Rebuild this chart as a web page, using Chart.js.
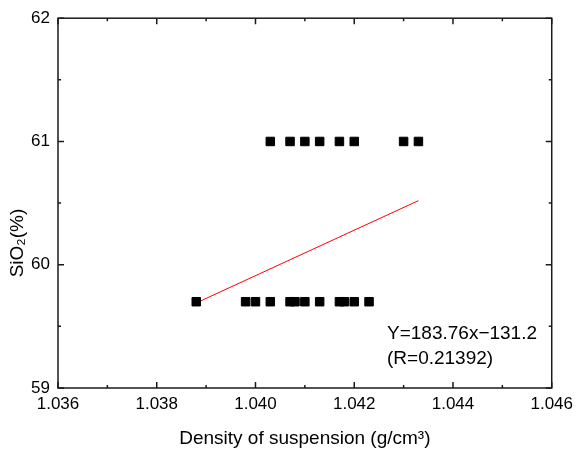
<!DOCTYPE html>
<html>
<head>
<meta charset="utf-8">
<script src="https://cdn.jsdelivr.net/npm/chart.js@4"></script>
<style>
  body { margin: 0; background: #fff; }
  #wrap { width: 579px; height: 456px; }
</style>
</head>
<body>
<div id="wrap"><canvas id="chart" width="579" height="456"></canvas></div>
<script>
// datos
const density = [1.0403, 1.0407, 1.0410, 1.0413, 1.0417, 1.0420, 1.0430, 1.0433,
                 1.0388, 1.0398, 1.0400, 1.0403, 1.0407, 1.0408, 1.0410, 1.0413, 1.0417, 1.0418, 1.0420, 1.0423];
const sio2 = [61, 61, 61, 61, 61, 61, 61, 61,
              59.7, 59.7, 59.7, 59.7, 59.7, 59.7, 59.7, 59.7, 59.7, 59.7, 59.7, 59.7];
// recta de ajuste
const fitX = [1.0388, 1.0433];
const fitY = [59.69, 60.52];
const fitText = ["Y=183.76x\u2212131.2", "(R=0.21392)"];

const xMin = 1.036, xMax = 1.046, xStep = 0.002;
const yMin = 59, yMax = 62, yStep = 1;
const yTitle = "SiO\u2082(%)";

const FONT = "'Liberation Sans', Arial, sans-serif";

// caja, ticks hacia dentro, título Y y ecuación
const frame = {
    id: "frame",
    afterDraw(chart) {
        const ctx = chart.ctx;
        const a = chart.chartArea;
        const xs = chart.scales.x, ys = chart.scales.y;
        ctx.save();
        ctx.strokeStyle = "#1a1a1a";
        ctx.lineWidth = 1.5;
        ctx.strokeRect(a.left, a.top, a.right - a.left, a.bottom - a.top);
        ctx.beginPath();
        const xt = xs.ticks.map(t => t.value);
        xt.forEach((v, i) => {
            const px = xs.getPixelForValue(v);
            ctx.moveTo(px, a.bottom); ctx.lineTo(px, a.bottom - 6);
            ctx.moveTo(px, a.top); ctx.lineTo(px, a.top + 6);
            if (i < xt.length - 1) {
                const m = xs.getPixelForValue((v + xt[i + 1]) / 2);
                ctx.moveTo(m, a.bottom); ctx.lineTo(m, a.bottom - 3);
                ctx.moveTo(m, a.top); ctx.lineTo(m, a.top + 3);
            }
        });
        const yt = ys.ticks.map(t => t.value);
        yt.forEach((v, i) => {
            const py = ys.getPixelForValue(v);
            ctx.moveTo(a.left, py); ctx.lineTo(a.left + 6, py);
            ctx.moveTo(a.right, py); ctx.lineTo(a.right - 6, py);
            if (i < yt.length - 1) {
                const m = ys.getPixelForValue((v + yt[i + 1]) / 2);
                ctx.moveTo(a.left, m); ctx.lineTo(a.left + 3, m);
                ctx.moveTo(a.right, m); ctx.lineTo(a.right - 3, m);
            }
        });
        ctx.stroke();

        ctx.fillStyle = "#000";
        // titulo del eje Y
        ctx.save();
        ctx.translate(18, 243);
        ctx.rotate(-Math.PI / 2);
        ctx.font = "19px " + FONT;
        ctx.textAlign = "center";
        ctx.textBaseline = "middle";
        ctx.fillText(yTitle, 0, 0);
        ctx.restore();

        // texto de la ecuación
        ctx.font = "19px " + FONT;
        ctx.textBaseline = "alphabetic";
        ctx.fillText(fitText[0], 387, 339);
        ctx.fillText(fitText[1], 387, 364);
        ctx.restore();
    }
};

const ctx = document.getElementById("chart").getContext("2d");
const chart = new Chart(ctx, {
    type: "scatter",
    data: {
        datasets: [{
            label: "SiO2",
            data: density.map((d, i) => ({ x: d, y: sio2[i] })),
            pointStyle: "rect",
            pointRadius: 6,
            pointBackgroundColor: "#000",
            pointBorderColor: "#000",
            pointBorderWidth: 1,
        }, {
            label: "fit",
            data: fitX.map((d, i) => ({ x: d, y: fitY[i] })),
            showLine: true,
            borderColor: "#ff0000",
            borderWidth: 1,
            pointRadius: 0,
        }],
    },
    options: {
        responsive: false,
        animation: false,
        layout: { padding: { top: 12, right: 20, left: 0, bottom: 0 } },
        plugins: { legend: { display: false }, tooltip: { enabled: false } },
        scales: {
            x: {
                type: "linear",
                min: xMin, max: xMax,
                grid: { display: false, drawTicks: false },
                border: { display: false },
                ticks: {
                    stepSize: xStep,
                    color: "#000",
                    padding: 6,
                    font: { family: FONT, size: 17 },
                    callback: v => v.toFixed(3),
                },
                title: {
                    display: true,
                    text: "Density of suspension (g/cm\u00B3)",
                    color: "#000",
                    font: { family: FONT, size: 19 },
                    padding: { top: 0, bottom: 6 },
                },
                afterFit: s => { s.height = 68; },
            },
            y: {
                min: yMin, max: yMax,
                grid: { display: false, drawTicks: false },
                border: { display: false },
                ticks: {
                    stepSize: yStep,
                    color: "#000",
                    padding: 8,
                    font: { family: FONT, size: 17 },
                },
                afterFit: s => { s.width = 58; },
            },
        },
    },
    plugins: [frame],
});
</script>
</body>
</html>
